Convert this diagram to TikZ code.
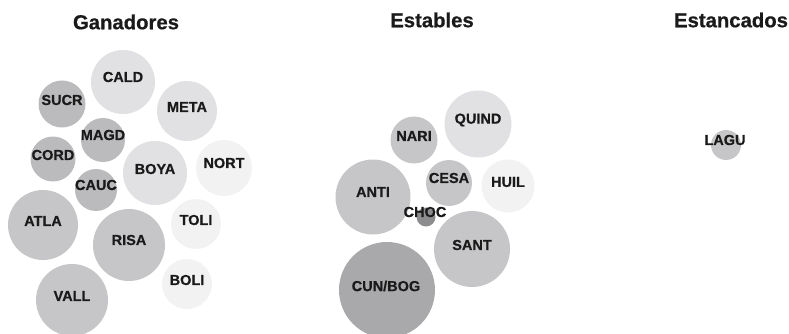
\documentclass[tikz,border=0pt]{standalone}
\usepackage{fontspec}
\setmainfont{Liberation Sans}
\newfontfamily\heavyfont[FakeBold=0.6]{Liberation Sans}
\begin{document}
\begin{tikzpicture}[x=1pt,y=-1pt,
  tone1/.style={fill=gray1},
  tone2/.style={fill=gray2},
  tone3/.style={fill=gray3},
  tone4/.style={fill=gray4},
  tone5/.style={fill=gray5},
  tone6/.style={fill=gray6},
  tag/.style={font=\heavyfont\bfseries\fontsize{14.5}{16}\selectfont,text=inkc,inner sep=0pt},
  heading/.style={font=\heavyfont\bfseries\fontsize{20.3}{22}\selectfont,text=inkc,inner sep=0pt}]
\definecolor{gray1}{HTML}{F2F2F2}
\definecolor{gray2}{HTML}{E1E1E3}
\definecolor{gray3}{HTML}{C6C6C8}
\definecolor{gray4}{HTML}{BBBBBE}
\definecolor{gray5}{HTML}{A9A9AC}
\definecolor{gray6}{HTML}{8C8C8F}
\definecolor{inkc}{HTML}{1A1A1A}
\useasboundingbox (0,0) rectangle (789,334);

% column headings
\node[heading] (hG) at (126,22) {Ganadores};
\node[heading] (hE) at (432,20) {Estables};
\node[heading] (hS) at (731,20) {Estancados};

% Ganadores
\fill[tone2] (123,82) circle (32);
\fill[tone4] (62,104) circle (23.5);
\fill[tone2] (187,111) circle (30);
\fill[tone4] (103,140) circle (22);
\fill[tone4] (53,159) circle (22.5);
\fill[tone2] (155,173) circle (32);
\fill[tone1] (224,168) circle (28);
\fill[tone4] (96,190) circle (21);
\fill[tone3] (43,225) circle (35);
\fill[tone3] (129,245) circle (36);
\fill[tone1] (196,224) circle (25);
\fill[tone1] (187,284) circle (25);
\fill[tone3] (72,300) circle (36);

\node[tag] (cald) at (123,77) {CALD};
\node[tag] (sucr) at (62,100) {SUCR};
\node[tag] (meta) at (187,107) {META};
\node[tag] (magd) at (103,135) {MAGD};
\node[tag] (cord) at (53,155) {CORD};
\node[tag] (boya) at (155,169) {BOYA};
\node[tag] (nort) at (224,163) {NORT};
\node[tag] (cauc) at (96,185) {CAUC};
\node[tag] (atla) at (43,221) {ATLA};
\node[tag] (risa) at (129,240) {RISA};
\node[tag] (toli) at (196,220) {TOLI};
\node[tag] (boli) at (187,280) {BOLI};
\node[tag] (vall) at (72,296) {VALL};

% Estables
\fill[tone2] (478,124) circle (33.5);
\fill[tone3] (414,140) circle (23.5);
\fill[tone3] (373,197) circle (37.5);
\fill[tone3] (449,183) circle (23);
\fill[tone1] (508,186) circle (26.5);
\fill[tone6] (426,217) circle (9.5);
\fill[tone3] (472,249) circle (38);
\fill[tone5] (387,290) circle (48);

\node[tag] (quind) at (478,120) {QUIND};
\node[tag] (nari) at (414,136) {NARI};
\node[tag] (anti) at (373,192) {ANTI};
\node[tag] (cesa) at (449,178) {CESA};
\node[tag] (huil) at (508,182) {HUIL};
\node[tag] (choc) at (425,212) {CHOC};
\node[tag] (sant) at (472,245) {SANT};
\node[tag] (cunbog) at (386,286) {CUN/BOG};

% Estancados
\fill[tone3] (726,145) circle (15);
\node[tag] (lagu) at (725,140) {LAGU};
\end{tikzpicture}
\end{document}
